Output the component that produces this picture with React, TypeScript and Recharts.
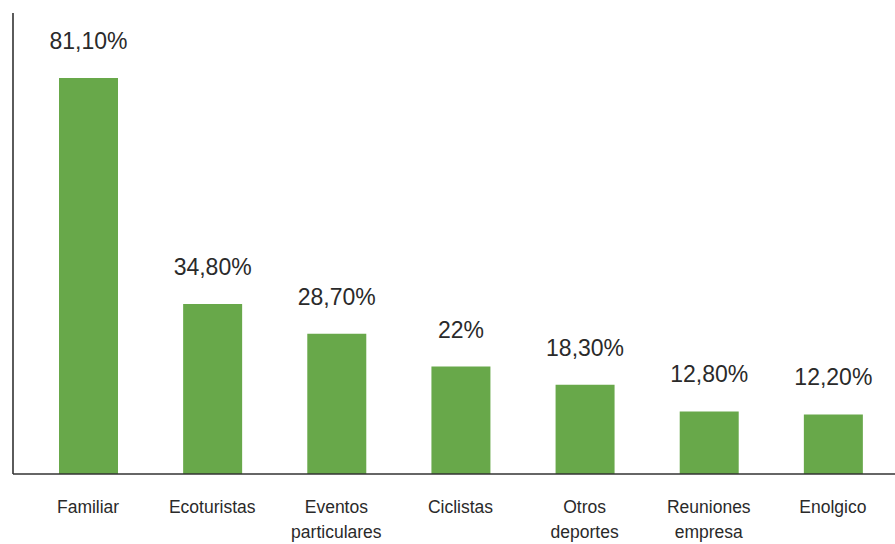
import React from "react";
import { BarChart, Bar, XAxis, YAxis, LabelList } from "recharts";

const categories = [
  "Familiar",
  "Ecoturistas",
  "Eventos particulares",
  "Ciclistas",
  "Otros deportes",
  "Reuniones empresa",
  "Enolgico",
];
const values = [81.1, 34.8, 28.7, 22, 18.3, 12.8, 12.2];
const valueLabels = ["81,10%", "34,80%", "28,70%", "22%", "18,30%", "12,80%", "12,20%"];

const data = categories.map((name, i) => ({ name, value: values[i], label: valueLabels[i] }));

const FONT = "Liberation Sans, Arial, sans-serif";

const CatTick = (props: any) => {
  const { x, y, payload } = props;
  const lines: string[] = String(payload.value).split(" ");
  return (
    <g>
      {lines.map((ln, i) => (
        <text
          key={i}
          x={x}
          y={y + 39 + i * 25}
          textAnchor="middle"
          fontFamily={FONT}
          fontSize={17.5}
          fill="#2a2a2a"
        >
          {ln}
        </text>
      ))}
    </g>
  );
};

export default function App() {
  return (
    <div style={{ position: "absolute", left: 0, top: 0, background: "#fff" }}>
      <BarChart
        width={895}
        height={544}
        data={data}
        margin={{ top: 13, right: 0, bottom: 0, left: 12 }}
        barCategoryGap={0}
      >
        <XAxis
          dataKey="name"
          interval={0}
          tickLine={false}
          tickSize={0}
          tickMargin={0}
          height={70}
          axisLine={{ stroke: "#333", strokeWidth: 1.6 }}
          tick={<CatTick />}
          padding={{ left: 13, right: 0 }}
        />
        <YAxis
          width={1}
          domain={[0, 94.4]}
          tick={false}
          tickLine={false}
          axisLine={{ stroke: "#333", strokeWidth: 1.6 }}
        />
        <Bar dataKey="value" fill="#68a84a" barSize={59} isAnimationActive={false}>
          <LabelList
            dataKey="label"
            position="top"
            offset={29}
            fontFamily={FONT}
            fontSize={23}
            fill="#2a2a2a"
          />
        </Bar>
      </BarChart>
    </div>
  );
}
